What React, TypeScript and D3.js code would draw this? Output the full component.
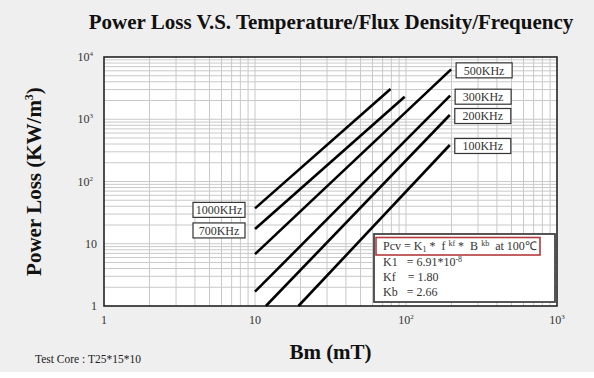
import React from "react";
import * as d3 from "d3";

const freqLabels = ["1000KHz", "700KHz", "500KHz", "300KHz", "200KHz", "100KHz"];
const bStart = [10, 10, 10, 10, 11.8, 19.4];
const pStart = [37, 17.3, 6.8, 1.7, 1, 1];
const bEnd = [79, 98, 199, 196, 195, 195];
const pEnd = [3060, 2300, 6330, 2390, 1170, 386];
const labelOnLeft = [true, true, false, false, false, false];

const xTicks = [1, 10, 100, 1000];
const yTicks = [1, 10, 100, 1000, 10000];

const title = "Power Loss V.S. Temperature/Flux Density/Frequency";
const xTitle = "Bm (mT)";
const testCore = "Test Core : T25*15*10";
const k1Mantissa = "6.91*10";
const k1Exp = "-8";
const kfValue = "1.80";
const kbValue = "2.66";
const tempText = "at 100\u2103";

const W = 594;
const H = 378;
const M = { left: 104, right: 557, top: 57, bottom: 306 };
const SERIF = "'Liberation Serif', 'Times New Roman', serif";
const PRE = { whiteSpace: "pre" as const };

function supLabel(v: number) {
  if (v === 1) return { base: "1", exp: "" };
  if (v === 10) return { base: "10", exp: "" };
  return { base: "10", exp: String(Math.round(Math.log10(v))) };
}

export default function App() {
  const x = d3.scaleLog().domain([1, 1000]).range([M.left, M.right]);
  const y = d3.scaleLog().domain([1, 10000]).range([M.bottom, M.top]);

  const xGrid: number[] = [];
  for (let d = 1; d < 1000; d *= 10) for (let k = 1; k <= 9; k++) if (d * k > 1) xGrid.push(d * k);
  const yGrid: number[] = [];
  for (let d = 1; d < 10000; d *= 10) for (let k = 1; k <= 9; k++) if (d * k > 1) yGrid.push(d * k);

  const line = d3
    .line<[number, number]>()
    .x((d) => x(d[0]))
    .y((d) => y(d[1]));

  return (
    <svg
      width={W}
      height={H}
      style={{ position: "absolute", left: 0, top: 0, background: "#ffffff" }}
    >
      <rect x={0} y={0} width={W} height={372} fill="#efefef" />
      <text
        x={331}
        y={29}
        textAnchor="middle"
        fontFamily={SERIF}
        fontWeight="bold"
        fontSize={21}
        fill="#111"
      >
        {title}
      </text>

      <rect x={M.left} y={M.top} width={M.right - M.left} height={M.bottom - M.top} fill="#ffffff" />
      {xGrid.map((v, i) => (
        <line key={"xg" + i} x1={x(v)} x2={x(v)} y1={M.top} y2={M.bottom} stroke="#c9c9c9" strokeWidth={1} />
      ))}
      {yGrid.map((v, i) => (
        <line key={"yg" + i} x1={M.left} x2={M.right} y1={y(v)} y2={y(v)} stroke="#c9c9c9" strokeWidth={1} />
      ))}
      <rect
        x={M.left}
        y={M.top}
        width={M.right - M.left}
        height={M.bottom - M.top}
        fill="none"
        stroke="#222"
        strokeWidth={1.6}
      />

      {freqLabels.map((f, i) => (
        <path
          key={"l" + i}
          d={line([
            [bStart[i], pStart[i]],
            [bEnd[i], pEnd[i]],
          ]) as string}
          stroke="#000"
          strokeWidth={2.6}
          fill="none"
        />
      ))}

      {freqLabels.map((f, i) => {
        const left = labelOnLeft[i];
        const bw = left ? 52 : 56;
        const bh = 15;
        const bx = left ? x(bStart[i]) - 10 - bw : x(bEnd[i]) + 5;
        const cy = left ? y(pStart[i]) + 1.5 : y(pEnd[i]) + 1;
        return (
          <g key={"lb" + i}>
            <rect x={bx} y={cy - bh / 2} width={bw} height={bh} fill="#fff" stroke="#333" strokeWidth={1.2} />
            <text
              x={bx + bw / 2}
              y={cy + 4.2}
              textAnchor="middle"
              fontFamily={SERIF}
              fontSize={12}
              fill="#333"
            >
              {f}
            </text>
          </g>
        );
      })}

      {/* formula box */}
      <rect x={374} y={234} width={181} height={68} fill="#fff" stroke="#444" strokeWidth={1.8} />
      <rect x={376} y={237.5} width={164} height={17.5} fill="none" stroke="#b23a3a" strokeWidth={1.6} />
      <text x={383} y={250} fontFamily={SERIF} fontSize={12} fill="#333" style={PRE}>
        <tspan>Pcv = K</tspan>
        <tspan fontSize={8} dy={2}>1</tspan>
        <tspan dy={-2}>{" *  f "}</tspan>
        <tspan fontSize={8} dy={-4}>kf</tspan>
        <tspan dy={4}>{" *  B "}</tspan>
        <tspan fontSize={8} dy={-4}>kb</tspan>
        <tspan dy={4}>{"  " + tempText}</tspan>
      </text>
      <text x={383} y={266} fontFamily={SERIF} fontSize={12} fill="#333" style={PRE}>
        <tspan>{"K1   = " + k1Mantissa}</tspan>
        <tspan fontSize={8} dy={-4}>{k1Exp}</tspan>
      </text>
      <text x={383} y={281} fontFamily={SERIF} fontSize={12} fill="#333" style={PRE}>
        {"Kf    = " + kfValue}
      </text>
      <text x={383} y={296} fontFamily={SERIF} fontSize={12} fill="#333" style={PRE}>
        {"Kb   = " + kbValue}
      </text>

      {/* y tick labels */}
      {yTicks.map((v, i) => {
        const l = supLabel(v);
        return (
          <text
            key={"yt" + i}
            x={l.exp ? 93 : 97}
            y={y(v) + 4}
            textAnchor="end"
            fontFamily={SERIF}
            fontSize={12}
            fill="#333"
          >
            <tspan>{l.base}</tspan>
            {l.exp ? (
              <tspan fontSize={7} dy={-5}>
                {l.exp}
              </tspan>
            ) : null}
          </text>
        );
      })}
      {/* x tick labels */}
      {xTicks.map((v, i) => {
        const l = supLabel(v);
        return (
          <text
            key={"xt" + i}
            x={x(v)}
            y={324}
            textAnchor="middle"
            fontFamily={SERIF}
            fontSize={12}
            fill="#333"
          >
            <tspan>{l.base}</tspan>
            {l.exp ? (
              <tspan fontSize={7} dy={-5}>
                {l.exp}
              </tspan>
            ) : null}
          </text>
        );
      })}

      <text
        x={(M.left + M.right) / 2}
        y={359}
        textAnchor="middle"
        fontFamily={SERIF}
        fontWeight="bold"
        fontSize={21}
        fill="#111"
      >
        {xTitle}
      </text>
      <text
        transform={`translate(41, ${(M.top + M.bottom) / 2}) rotate(-90)`}
        textAnchor="middle"
        fontFamily={SERIF}
        fontWeight="bold"
        fontSize={21}
        fill="#111"
      >
        <tspan>Power Loss (KW/m</tspan>
        <tspan fontSize={12} dy={-8}>3</tspan>
        <tspan dy={8}>)</tspan>
      </text>

      <text x={35} y={363} fontFamily={SERIF} fontSize={11.5} fill="#222">
        {testCore}
      </text>
    </svg>
  );
}
